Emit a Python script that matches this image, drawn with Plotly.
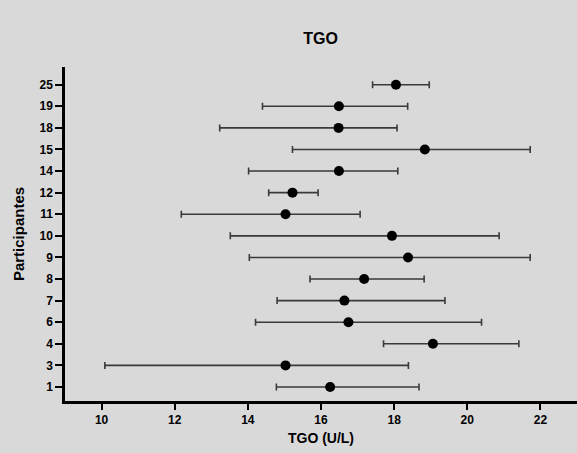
import plotly.graph_objects as go

# Participant IDs (bottom to top) and TGO summary values (U/L)
participants = ["1", "3", "4", "6", "7", "8", "9", "10", "11", "12", "14", "15", "18", "19", "25"]
tgo_mean = [16.25, 15.03, 19.06, 16.75, 16.64, 17.18, 18.38, 17.94, 15.03, 15.22, 16.49, 18.84, 16.48, 16.49, 18.05]
tgo_low = [14.78, 10.09, 17.71, 14.21, 14.80, 15.70, 14.04, 13.52, 12.18, 14.57, 14.02, 15.22, 13.23, 14.40, 17.41]
tgo_high = [18.68, 18.39, 21.41, 20.39, 19.39, 18.82, 21.72, 20.87, 17.07, 15.92, 18.10, 21.72, 18.08, 18.37, 18.96]
x_ticks = [10, 12, 14, 16, 18, 20, 22]

pos = list(range(len(participants)))
err_plus = [h - m for h, m in zip(tgo_high, tgo_mean)]
err_minus = [m - l for m, l in zip(tgo_mean, tgo_low)]

bg = "#d9d9d9"
font_family = "Liberation Sans, Arial, sans-serif"

fig = go.Figure(
    go.Scatter(
        x=tgo_mean,
        y=pos,
        mode="markers",
        marker=dict(color="black", size=10),
        error_x=dict(
            type="data",
            symmetric=False,
            array=err_plus,
            arrayminus=err_minus,
            color="#3a3a3a",
            thickness=1.6,
            width=3.5,
        ),
        showlegend=False,
    )
)

fig.update_layout(
    width=577,
    height=453,
    paper_bgcolor=bg,
    plot_bgcolor=bg,
    margin=dict(l=65, r=0, t=67, b=52),
    font=dict(family=font_family, color="black"),
    title=dict(
        text="<b>TGO</b>",
        x=(320.5) / 577,
        xanchor="center",
        y=1 - 38 / 453,
        yanchor="middle",
        font=dict(size=16, family=font_family),
    ),
)

fig.update_xaxes(
    range=[9, 23],
    tickvals=x_ticks,
    ticktext=[f"<b>{v}</b>" for v in x_ticks],
    tickfont=dict(size=12),
    showgrid=False,
    zeroline=False,
    showline=True,
    linecolor="black",
    linewidth=2.5,
    ticks="outside",
    ticklen=6,
    tickwidth=2,
    tickcolor="black",
    title=dict(text="<b>TGO (U/L)</b>", font=dict(size=14), standoff=8),
)

fig.update_yaxes(
    range=[-0.65, 14.82],
    tickvals=pos,
    ticktext=[f"<b>{p}</b>" for p in participants],
    tickfont=dict(size=12),
    showgrid=False,
    zeroline=False,
    showline=True,
    linecolor="black",
    linewidth=2.5,
    ticks="outside",
    ticklen=7,
    tickwidth=2,
    tickcolor="black",
    title=dict(text="<b>Participantes</b>", font=dict(size=15), standoff=12),
)

fig.write_html("out.html")
